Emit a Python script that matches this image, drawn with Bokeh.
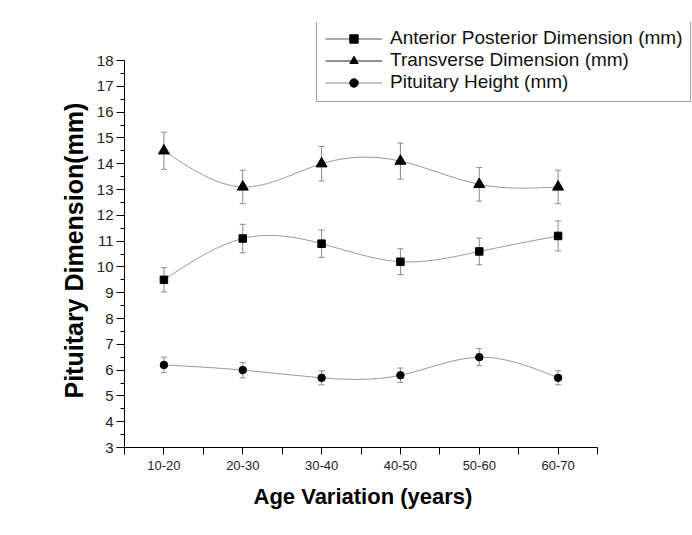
import numpy as np
from bokeh.plotting import figure
from bokeh.models import (ColumnDataSource, Whisker, TeeHead, Legend, LegendItem,
                          FixedTicker, Range1d, Title)
from bokeh.embed import file_html
from bokeh.resources import INLINE

# ---- data ----
age_groups = ["10-20", "20-30", "30-40", "40-50", "50-60", "60-70"]
ap_mean = [9.5, 11.1, 10.9, 10.2, 10.6, 11.2]
ap_err = [0.47, 0.55, 0.53, 0.50, 0.52, 0.58]
tr_mean = [14.5, 13.1, 14.0, 14.1, 13.2, 13.1]
tr_err = [0.72, 0.65, 0.67, 0.70, 0.65, 0.65]
ph_mean = [6.2, 6.0, 5.7, 5.8, 6.5, 5.7]
ph_err = [0.30, 0.30, 0.27, 0.28, 0.33, 0.27]
series_labels = ["Anterior Posterior Dimension (mm)", "Transverse Dimension (mm)",
                 "Pituitary Height (mm)"]
y_ticks = list(range(3, 19))

FONT = "Liberation Sans"
CURVE = "#9a9a9a"
ERR = "#8a8a8a"

xs = list(range(1, len(age_groups) + 1))

# ---- layout (pixels) ----
W, H = 692, 535
AX_L, AX_R = 124, 597      # x-axis extent on the canvas
AX_T, AX_B = 60, 447       # y-axis extent on the canvas
FR_T, FR_R = 22, 692       # frame extended so the legend is not clipped
x_lo, x_hi = 0.5, 6.5
y_lo, y_hi = 3, 18
xpx = (AX_R - AX_L) / (x_hi - x_lo)
ypx = (AX_B - AX_T) / (y_hi - y_lo)
x_end = x_hi + (FR_R - AX_R) / xpx
y_end = y_hi + (AX_T - FR_T) / ypx

p = figure(width=W, height=H, output_backend="svg", toolbar_location=None,
           x_range=Range1d(x_lo, x_end), y_range=Range1d(y_lo, y_end),
           min_border_left=AX_L, min_border_right=W - FR_R, min_border_top=FR_T,
           min_border_bottom=H - AX_B)
p.outline_line_color = None
p.xgrid.visible = False
p.ygrid.visible = False
p.background_fill_color = "white"
p.border_fill_color = "white"


def spline_segments(x, y):
    """Natural cubic spline through the points, returned as Bezier segments."""
    x = np.asarray(x, float)
    y = np.asarray(y, float)
    n = len(x)
    h = np.diff(x)
    A = np.zeros((n, n))
    b = np.zeros(n)
    A[0, 0] = 1
    A[-1, -1] = 1
    for i in range(1, n - 1):
        A[i, i - 1] = h[i - 1]
        A[i, i] = 2 * (h[i - 1] + h[i])
        A[i, i + 1] = h[i]
        b[i] = 6 * ((y[i + 1] - y[i]) / h[i] - (y[i] - y[i - 1]) / h[i - 1])
    M = np.linalg.solve(A, b)
    seg = dict(x0=[], y0=[], x1=[], y1=[], cx0=[], cy0=[], cx1=[], cy1=[])
    for i in range(n - 1):
        s = (y[i + 1] - y[i]) / h[i]
        d0 = s - h[i] * (2 * M[i] + M[i + 1]) / 6
        d1 = s + h[i] * (M[i] + 2 * M[i + 1]) / 6
        seg["x0"].append(x[i]); seg["y0"].append(y[i])
        seg["x1"].append(x[i + 1]); seg["y1"].append(y[i + 1])
        seg["cx0"].append(x[i] + h[i] / 3); seg["cy0"].append(y[i] + h[i] * d0 / 3)
        seg["cx1"].append(x[i + 1] - h[i] / 3); seg["cy1"].append(y[i + 1] - h[i] * d1 / 3)
    return seg


series = [
    (ap_mean, ap_err, "square", 7.5, "#555555"),
    (tr_mean, tr_err, "triangle", 11, "#222222"),
    (ph_mean, ph_err, "circle", 7.5, "#888888"),
]

items = []
for (mean, err, marker, size, leg_col), label in zip(series, series_labels):
    p.bezier(source=ColumnDataSource(spline_segments(xs, mean)),
             x0="x0", y0="y0", x1="x1", y1="y1", cx0="cx0", cy0="cy0",
             cx1="cx1", cy1="cy1", line_color=CURVE, line_width=1)
    src = ColumnDataSource(dict(x=xs, y=mean,
                                upper=[m + e for m, e in zip(mean, err)],
                                lower=[m - e for m, e in zip(mean, err)]))
    w = Whisker(source=src, base="x", upper="upper", lower="lower",
                line_color=ERR, line_width=1,
                upper_head=TeeHead(size=6, line_color=ERR, line_width=1),
                lower_head=TeeHead(size=6, line_color=ERR, line_width=1))
    p.add_layout(w)
    sc = p.scatter(x="x", y="y", source=src, marker=marker, size=size,
                   fill_color="black", line_color="black")
    # single-point line: draws nothing on the plot, only its legend sample
    leg_line = p.line(x=xs[:1], y=mean[:1], line_color=leg_col, line_width=1)
    items.append(LegendItem(label=label, renderers=[leg_line, sc]))

legend = Legend(items=items, location=(316 - AX_L, AX_B - 102), orientation="vertical",
                glyph_width=57, glyph_height=21, label_height=21,
                label_standoff=8, padding=8, spacing=0, margin=0,
                label_text_font=FONT, label_text_font_size="19px",
                label_text_color="#111111",
                border_line_color="#444444", border_line_width=1.5,
                background_fill_color="white", background_fill_alpha=1)
p.add_layout(legend)

# ---- axes ----
xa = p.xaxis[0]
xa.bounds = (x_lo, x_hi)
xa.ticker = FixedTicker(ticks=xs, minor_ticks=[v - 0.5 for v in xs] + [xs[-1] + 0.5])
xa.major_label_overrides = {i: g for i, g in zip(xs, age_groups)}
xa.major_tick_out = 7
xa.major_tick_in = 0
xa.minor_tick_out = 7
xa.minor_tick_in = 0
xa.major_label_standoff = 6
xa.major_label_text_font = FONT
xa.major_label_text_font_size = "13px"
xa.major_label_text_color = "#222222"
xa.axis_line_color = "black"
xa.major_tick_line_color = "black"
xa.minor_tick_line_color = "black"

ya = p.yaxis[0]
ya.bounds = (y_lo, y_hi)
ya.ticker = FixedTicker(ticks=y_ticks, minor_ticks=[t + 0.5 for t in y_ticks[:-1]])
ya.major_tick_out = 8
ya.major_tick_in = 0
ya.minor_tick_out = 4
ya.minor_tick_in = 0
ya.major_label_standoff = 3
ya.major_label_text_font = FONT
ya.major_label_text_font_size = "15px"
ya.major_label_text_color = "#222222"
ya.axis_line_color = "black"
ya.major_tick_line_color = "black"
ya.minor_tick_line_color = "black"

# axis titles, placed against the drawn axes rather than the extended frame
x_title = Title(text="Age Variation (years)", align="left", offset=129,
                text_font=FONT, text_font_style="bold", text_font_size="22px",
                text_color="black", standoff=19)
p.add_layout(x_title, "below")
y_title = Title(text="Pituitary Dimension(mm)", align="left", offset=49,
                text_font=FONT, text_font_style="bold", text_font_size="25px",
                text_color="black", standoff=11)
p.add_layout(y_title, "left")

open("out.html", "w").write(file_html(p, INLINE))
